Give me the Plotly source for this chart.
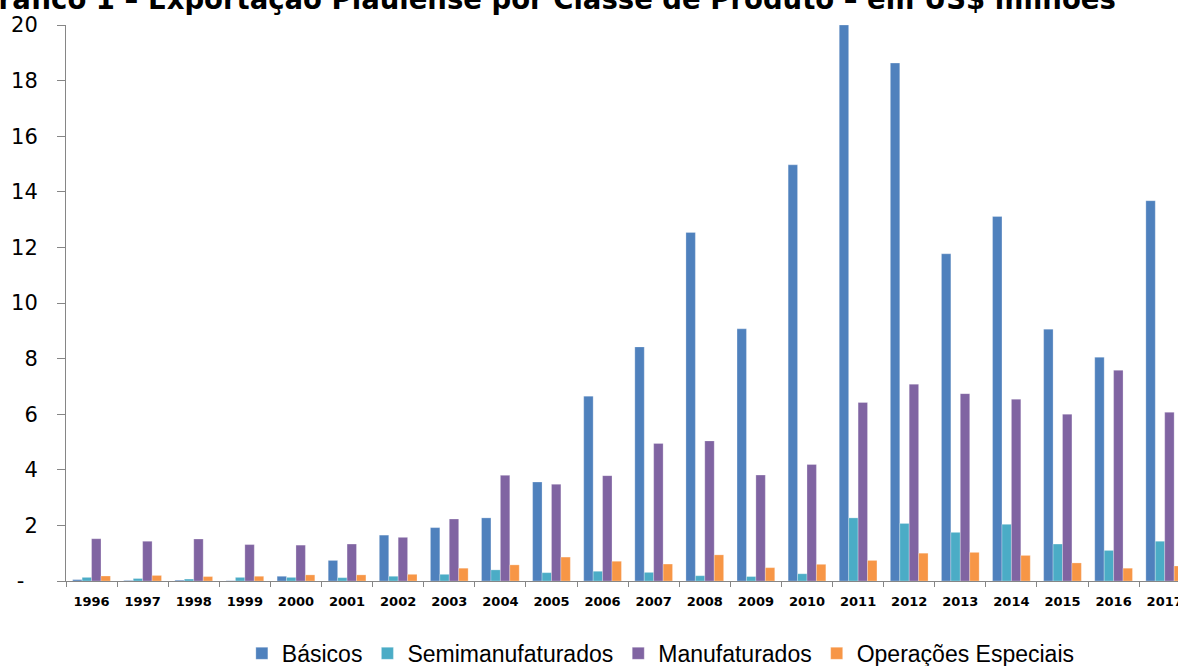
import plotly.graph_objects as go

years = [str(y) for y in range(1996, 2018)]
basicos = [0.05, 0.02, 0.03, 0.01, 0.17, 0.74, 1.65, 1.92, 2.27, 3.56, 6.65, 8.42,
           12.54, 9.07, 14.97, 20.0, 18.63, 11.77, 13.11, 9.06, 8.05, 13.68]
semimanuf = [0.13, 0.09, 0.07, 0.13, 0.13, 0.12, 0.17, 0.24, 0.40, 0.30, 0.35, 0.31,
             0.19, 0.16, 0.26, 2.27, 2.07, 1.75, 2.04, 1.33, 1.10, 1.43]
manuf = [1.52, 1.43, 1.51, 1.31, 1.29, 1.33, 1.57, 2.23, 3.80, 3.48, 3.79, 4.95,
         5.04, 3.81, 4.19, 6.42, 7.08, 6.74, 6.54, 6.00, 7.58, 6.07]
operacoes = [0.18, 0.20, 0.16, 0.17, 0.22, 0.22, 0.24, 0.46, 0.58, 0.86, 0.71, 0.61,
             0.94, 0.48, 0.60, 0.74, 1.00, 1.03, 0.92, 0.65, 0.46, 0.54]

series_names = ["Básicos", "Semimanufaturados", "Manufaturados", "Operações Especiais"]
series_vals = [basicos, semimanuf, manuf, operacoes]
colors = ["#4F81BD", "#4BACC6", "#8064A2", "#F79646"]

ytick_vals = list(range(0, 21, 2))
ytick_text = ["-\u00a0\u00a0"] + [str(v) for v in ytick_vals[1:]]

title_text = "Gráfico 1 – Exportação Piauiense por Classe de Produto – em US$ milhões"

fig = go.Figure()
for name, vals, col in zip(series_names, series_vals, colors):
    fig.add_trace(go.Bar(
        x=years, y=vals, name=name,
        marker=dict(color=col, line=dict(color="rgba(255,255,255,0.45)", width=0.6)),
    ))

fig.update_layout(
    width=1178, height=666,
    barmode="group", bargap=0.262, bargroupgap=0,
    plot_bgcolor="white", paper_bgcolor="white",
    margin=dict(l=66, r=0, t=25, b=85, autoexpand=False),
    font=dict(family="DejaVu Sans", color="black"),
    showlegend=True,
    legend=dict(
        orientation="h", xref="container", yref="container",
        x=0.561, xanchor="center", y=0.019, yanchor="middle",
        font=dict(family="Liberation Sans", size=23, color="black"),
        traceorder="normal",
    ),
    annotations=[dict(
        text="<b>" + title_text + "</b>",
        xref="paper", yref="paper", x=0.432, y=1, xanchor="center", yanchor="middle",
        yshift=26, showarrow=False,
        font=dict(family="DejaVu Sans", size=27.5, color="black"),
    )],
)

fig.update_xaxes(
    type="category", range=[-0.5, 21.26], automargin=False,
    showline=True, linecolor="#868686", linewidth=1,
    ticks="outside", tickson="boundaries", ticklen=5, tickcolor="#868686",
    tickfont=dict(family="DejaVu Sans", size=13, color="black"),
    showgrid=False, zeroline=False,
    ticklabelstandoff=8,
    tickprefix="<b>", ticksuffix="</b>",
)

fig.update_yaxes(
    range=[0, 20], tickvals=ytick_vals, ticktext=ytick_text, automargin=False,
    showline=True, linecolor="#868686", linewidth=1,
    ticks="outside", ticklen=8, tickcolor="#868686",
    tickfont=dict(family="DejaVu Sans", size=21, color="black"),
    showgrid=False, zeroline=False,
    ticklabelstandoff=15,
)

fig.write_html("out.html", config={"displayModeBar": False},
               post_script="document.body.style.margin='0px';")
